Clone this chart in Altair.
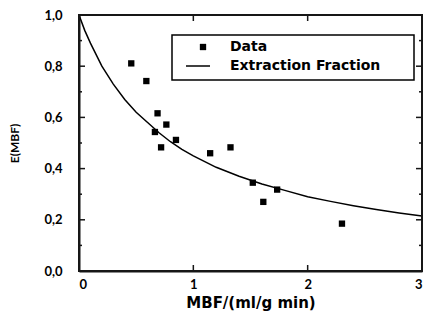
import altair as alt
import pandas as pd

# measured data points
data_x = [0.457, 0.589, 0.687, 0.764, 0.664, 0.848, 0.718, 1.147, 1.325, 1.52, 1.733, 1.612, 2.30]
data_y = [0.811, 0.742, 0.616, 0.572, 0.543, 0.512, 0.483, 0.460, 0.483, 0.345, 0.318, 0.270, 0.185]

# extraction fraction curve
curve_x = [0.0, 0.05, 0.1, 0.2, 0.3, 0.4, 0.5, 0.6, 0.7, 0.8, 0.9, 1.0, 1.2, 1.4, 1.6, 1.8, 2.0, 2.2, 2.4, 2.6, 2.8, 3.0]
curve_y = [1.0, 0.94, 0.89, 0.80, 0.73, 0.67, 0.62, 0.58, 0.54, 0.505, 0.475, 0.45, 0.405, 0.37, 0.34, 0.315, 0.29, 0.272, 0.255, 0.24, 0.227, 0.215]

series_names = ["Data", "Extraction Fraction"]
x_ticks = [0, 1, 2, 3]
y_ticks = [0.0, 0.2, 0.4, 0.6, 0.8, 1.0]
y_major_inner = [0.2, 0.4, 0.6, 0.8]
y_minor = [0.1, 0.3, 0.5, 0.7, 0.9]
x_inner = [1, 2]

W, H = 343, 256
FONT = "Lato"
LFONT = "DejaVu Sans"
INK = "#161616"

pts = pd.DataFrame({"x": data_x, "y": data_y})
crv = pd.DataFrame({"x": curve_x, "y": curve_y})

xs = alt.Scale(domain=[0, 3], nice=False)
ys = alt.Scale(domain=[0, 1], nice=False)

xaxis = alt.Axis(values=x_ticks, format="d", tickOpacity=0, gridOpacity=0,
                 domain=True, domainColor=INK, domainWidth=2,
                 labelPadding=2, labelFontSize=13, labelFontWeight="bold", labelFont=FONT,
                 labelColor="black", title="MBF/(ml/g min)", titleFont=LFONT, titleFontSize=15,
                 titleFontWeight="bold", titleColor="black", titlePadding=4)
yaxis = alt.Axis(values=y_ticks, labelExpr="replace(format(datum.value, '.1f'), '.', ',')",
                 tickOpacity=0, gridOpacity=0,
                 domain=True, domainColor=INK, domainWidth=2, labelPadding=12,
                 labelFontSize=13, labelFontWeight="bold", labelFont=FONT, labelColor="black",
                 title="E(MBF)", titleFont=FONT, titleFontSize=12, titleFontWeight="bold",
                 titleColor="black", titlePadding=22)

points = alt.Chart(pts).mark_square(filled=True, color="black", opacity=1, size=40).encode(
    x=alt.X("x:Q", scale=xs, axis=xaxis),
    y=alt.Y("y:Q", scale=ys, axis=yaxis),
)

line = alt.Chart(crv).mark_line(color="black", strokeWidth=1.5).encode(
    x=alt.X("x:Q", scale=xs, axis=xaxis), y=alt.Y("y:Q", scale=ys, axis=yaxis)
)

ymaj = pd.DataFrame({"y": y_major_inner})
ymin = pd.DataFrame({"y": y_minor})
xin = pd.DataFrame({"x": x_inner})

def yrule(df, a, b):
    return alt.Chart(df).mark_rule(color=INK, strokeWidth=1.5).encode(
        y=alt.Y("y:Q", scale=ys, axis=yaxis), x=alt.value(a), x2=alt.value(b))

def xrule(df, a, b):
    return alt.Chart(df).mark_rule(color=INK, strokeWidth=1.5).encode(
        x=alt.X("x:Q", scale=xs, axis=xaxis), y=alt.value(a), y2=alt.value(b))

ticks = [
    yrule(ymaj, 0, 6), yrule(ymin, 0, 3),
    yrule(ymaj, W, W - 6), yrule(ymin, W, W - 3),
    xrule(xin, H, H - 6), xrule(xin, 0, 6),
]

# plot frame
one = pd.DataFrame({"k": [0]})
frame = [
    alt.Chart(one).mark_rule(color=INK, strokeWidth=2).encode(
        x=alt.value(a), x2=alt.value(b), y=alt.value(c), y2=alt.value(d))
    for a, b, c, d in [(0, W, 0, 0), (0, W, H, H), (0, 0, 0, H), (W, W, 0, H)]
]

# legend (box, symbols, labels)
leg_box = alt.Chart(one).mark_rect(fill="white", stroke="black", strokeWidth=1.5).encode(
    x=alt.value(93), x2=alt.value(335), y=alt.value(20), y2=alt.value(65))
leg_sq = alt.Chart(one).mark_square(filled=True, color="black", opacity=1, size=40).encode(
    x=alt.value(124), y=alt.value(32))
leg_ln = alt.Chart(one).mark_rule(color="black", strokeWidth=1.5).encode(
    x=alt.value(107), x2=alt.value(131), y=alt.value(51))
leg_txt = [
    alt.Chart(pd.DataFrame({"label": [name]})).mark_text(
        align="left", baseline="middle", font=LFONT, fontSize=14, fontWeight="bold",
        color="black").encode(text="label:N", x=alt.value(151), y=alt.value(yy))
    for name, yy in zip(series_names, [32, 51])
]

chart = alt.layer(points, line, *ticks, *frame, leg_box, leg_sq, leg_ln, *leg_txt).properties(
    width=W, height=H,
    autosize=alt.AutoSizeParams(type="none"),
    padding={"left": 71, "top": 7, "right": 1, "bottom": 42},
).configure_view(stroke=INK, strokeWidth=2)

chart.save("out.html", embed_options={"renderer": "svg", "actions": False})
